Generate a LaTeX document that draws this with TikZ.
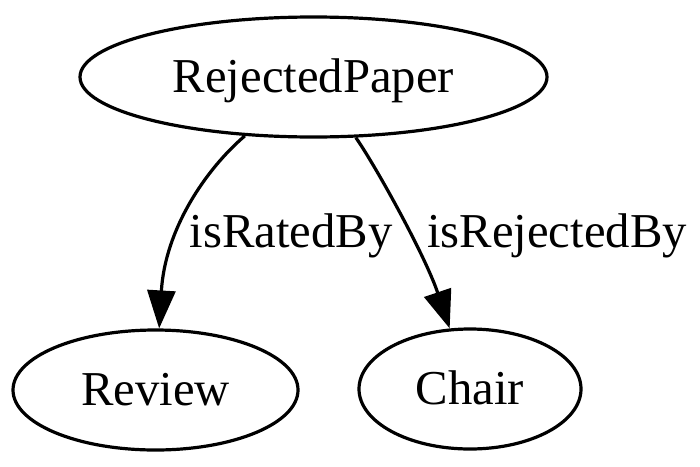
\documentclass[tikz,border=0pt]{standalone}
\usepackage{fontspec}
\setmainfont{Liberation Serif}
\usetikzlibrary{shapes.geometric,arrows.meta}

\begin{document}
\begin{tikzpicture}[x=1pt, y=-1pt,
    every node/.style={font=\fontsize{48.7}{58}\selectfont, text height=33pt, text depth=3pt},
    cls/.style={draw, ellipse, line width=3.2pt, inner sep=0pt, minimum height=120pt},
    rel/.style={line width=3.2pt, -{Triangle[length=38pt,width=28pt]}}]
            \useasboundingbox (0,0) rectangle (700,466);
            \node[cls, minimum width=467pt] (paper) at (313.5,77) {RejectedPaper};
            \node[cls, minimum width=285pt] (review) at (155.5,390) {Review};
            \node[cls, minimum width=222pt] (chair) at (470,389) {Chair};

            \node (rated) at (291,232) {isRatedBy};
            \node (rejected) at (557,232) {isRejectedBy};

            \draw[rel] (paper) .. controls (205,170) and (165,230) .. (review);
            \draw[rel] (paper) .. controls (375,165) and (425,255) .. (chair);
        \end{tikzpicture}
\end{document}
